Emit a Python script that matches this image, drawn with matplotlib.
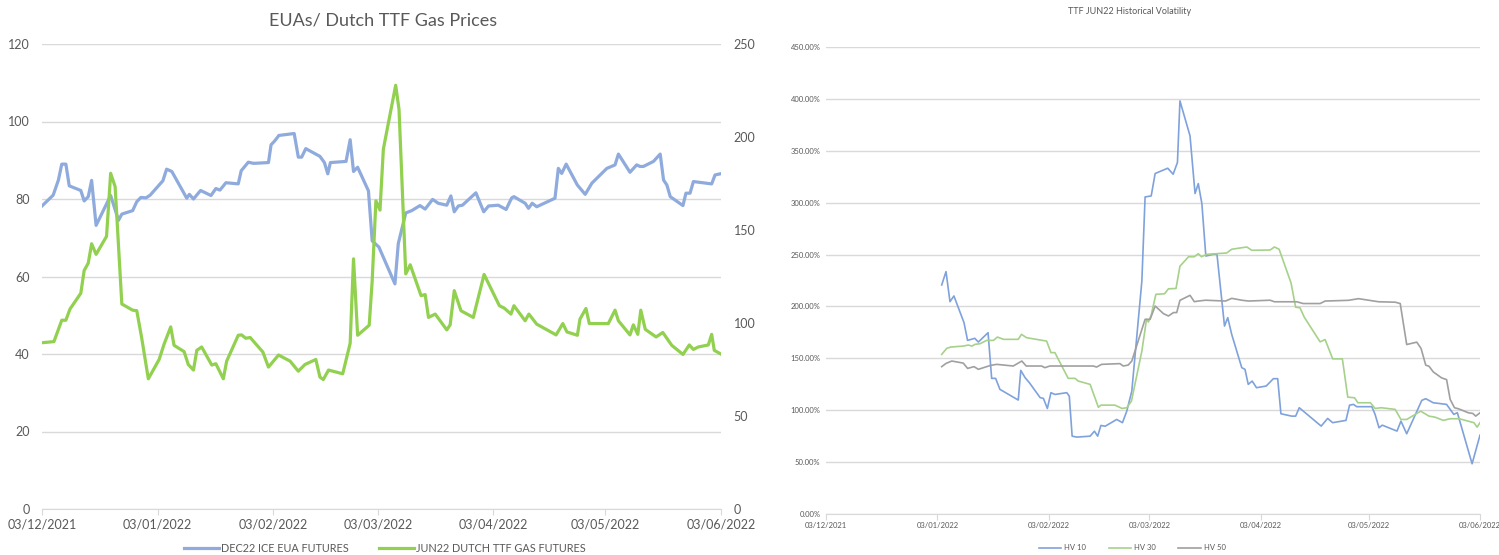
import matplotlib
matplotlib.use("Agg")
import matplotlib.pyplot as plt
import numpy as np
import pandas as pd
from matplotlib.lines import Line2D
from matplotlib.ticker import FuncFormatter, MultipleLocator

plt.rcParams["font.family"] = ["Lato", "DejaVu Sans"]

START = pd.Timestamp("2021-12-03")
MONTH_TICKS = pd.date_range("2021-12-03", "2022-06-03", freq=pd.DateOffset(months=1))

# --- left chart: EUA (left axis) vs TTF gas (right axis), x = days since 03/12/2021
eua_days = [0, 3.0, 4.4, 5.3, 6.4, 7.3, 10.4, 11.3, 12.4, 13.3, 14.5, 18.4, 20.5, 21.4, 24.3,
            25.4, 26.5, 27.9, 29.0, 31.2, 32.4, 33.4, 34.8, 38.8, 39.5, 40.6, 42.5, 45.3, 46.6,
            47.7, 49.3, 52.6, 53.4, 55.3, 56.7, 60.7, 61.4, 62.3, 63.5, 67.6, 68.7, 69.6, 70.7,
            74.5, 75.7, 76.6, 77.3, 81.5, 82.6, 83.5, 84.6, 87.5, 88.5, 90.3, 94.6, 95.5, 97.5,
            99.1, 101.3, 102.7, 104.7, 106.2, 108.5, 109.6, 110.5, 111.6, 112.7, 116.3, 118.4,
            119.7, 122.3, 124.4, 125.9, 126.5, 129.5, 130.4, 131.4, 132.6, 137.5, 138.4, 139.3,
            140.5, 143.5, 145.6, 147.4, 151.4, 153.6, 154.5, 157.6, 159.4, 160.3, 161.2, 163.9,
            165.7, 166.6, 167.5, 168.4, 171.8, 172.6, 173.7, 174.6, 179.5, 180.4, 181.8]
eua_vals = [78.2, 81.0, 84.9, 89.0, 89.0, 83.4, 82.2, 79.5, 80.6, 84.8, 73.2, 80.9, 74.5, 76.1, 77.0,
            79.3, 80.4, 80.3, 81.0, 83.4, 84.7, 87.7, 87.1, 80.2, 81.2, 80.0, 82.2, 80.9, 82.7,
            82.3, 84.2, 83.9, 87.3, 89.5, 89.2, 89.4, 94.0, 94.9, 96.4, 96.9, 90.8, 90.8, 93.0,
            91.0, 89.4, 86.5, 89.4, 89.7, 95.3, 87.1, 88.2, 82.1, 69.2, 67.6, 58.1, 68.5, 76.4,
            77.0, 78.3, 77.4, 79.9, 78.9, 78.4, 80.8, 76.7, 78.2, 78.4, 81.6, 76.7,
            78.2, 78.4, 77.3, 80.3, 80.6, 78.9, 77.6, 78.9, 78.0, 80.2, 87.9, 86.6,
            89.0, 83.6, 81.2, 84.1, 87.9, 88.8, 91.6, 86.9, 88.8, 88.4, 88.4, 89.7,
            91.6, 84.9, 83.6, 80.6, 78.3, 81.5, 81.5, 84.5, 83.9, 86.2, 86.5]

ttf_days = [0, 3.2, 5.3, 6.4, 7.5, 10.4, 11.3, 12.4, 13.3, 14.5, 17.3, 18.4, 19.6, 21.4, 24.3, 25.4,
            26.7, 28.5, 31.4, 32.7, 34.5, 35.4, 38.1, 39.2, 40.6, 41.5, 42.8, 45.5, 46.6, 48.6,
            49.5, 52.6, 53.5, 54.6, 55.8, 59.2, 60.7, 63.4, 66.5, 68.7, 70.5, 73.4, 74.5, 75.4,
            76.8, 80.6, 82.6, 83.5, 84.6, 87.7, 88.5, 89.5, 90.6, 91.5, 94.8, 95.7, 97.5, 98.7,
            101.6, 102.7, 103.6, 105.4, 108.5, 109.4, 110.5, 112.3, 115.6, 118.5, 122.6, 123.9,
            125.7, 126.5, 129.5, 130.5, 132.6, 137.8, 139.6, 140.7, 143.5, 144.2, 145.8, 146.7,
            151.8, 153.6, 154.5, 157.6, 158.5, 159.7, 160.5, 161.7, 164.6, 166.4, 168.8, 171.8,
            173.5, 174.6, 175.9, 178.6, 179.5, 180.2, 181.8]
ttf_vals = [89.4, 90.0, 101.5, 101.5, 107.5, 116.0, 128.2, 132.2, 142.6, 136.9, 146.6, 180.5, 173.3,
            110.2, 106.9, 106.6, 92.2, 70.0, 80.4, 88.5, 97.9, 88.0, 84.6, 77.7, 74.7, 85.3, 87.1,
            77.4, 78.1, 70.0, 79.5, 93.4, 93.6, 91.8, 92.2, 84.4, 76.3, 82.8, 79.5, 74.1, 77.7,
            80.4, 70.9, 69.6, 74.7, 72.7, 89.1, 134.5, 93.4, 98.8, 122.5, 165.7, 160.7, 193.5,
            227.8, 214.8, 126.4, 131.3, 114.7, 115.3, 103.0, 104.8, 96.3, 99.0, 117.4, 106.6,
            103.0, 126.1, 109.3, 108.0, 104.8, 109.3, 101.2, 104.8, 99.4, 93.6, 99.7, 95.2, 93.4,
            102.1, 107.8, 99.7, 99.7, 106.9, 101.2, 93.6, 99.0, 93.9, 106.9, 96.6, 92.5, 94.9,
            88.0, 83.1, 88.2, 85.8, 87.1, 88.2, 93.9, 85.3, 83.5]

# --- right chart: historical volatility (%), x = days since 03/12/2021
hv10_days = [32.2, 33.4, 34.5, 35.6, 38.4, 39.4, 41.4, 42.4, 45.1, 46.1, 47.2, 48.4, 53.5, 54.2,
             55.4, 56.6, 59.6, 60.5, 61.6, 62.6, 63.7, 67.0, 67.7, 68.5, 69.8, 73.5, 74.7, 75.6,
             76.5, 77.7, 80.9, 82.5, 83.7, 85.1, 87.9, 88.8, 90.5, 91.6, 95.1, 96.6, 97.8, 98.5,
             101.3, 102.7, 103.6, 104.6, 105.7, 107.8, 108.8, 110.9, 111.8, 112.9, 115.7, 116.6,
             117.5, 118.6, 119.8, 122.5, 124.5, 125.7, 126.6, 129.6, 130.7, 131.7, 137.8, 139.6,
             141.0, 144.7, 145.7, 146.8, 147.7, 151.9, 152.8, 153.9, 154.8, 158.9, 160.0, 161.6,
             165.8, 166.9, 169.0, 172.7, 174.7, 175.7, 179.8, 182.0]
hv10_vals = [220.7, 233.6, 204.6, 210.1, 184.4, 167.3, 169.3, 165.7, 174.7, 130.7, 130.7, 120.1,
             109.8, 138.4, 131.4, 126.5, 112.1, 111.4, 101.7, 116.9, 115.2, 116.9, 113.6, 75.0,
             74.1, 75.0, 79.8, 75.0, 85.3, 84.6, 91.1, 88.0, 99.1, 118.4, 224.5, 305.5, 306.5,
             328.1, 333.2, 327.4, 338.7, 398.1, 364.4, 308.8, 318.4, 299.1, 248.6, 250.3, 250.3,
             181.1, 189.2, 173.1, 141.0, 139.4, 124.9, 128.1, 121.7, 123.3, 130.4, 130.4, 96.6,
             94.3, 94.3, 102.4, 84.7, 92.1, 88.0, 90.2, 104.9, 105.6, 103.4, 103.4, 96.0, 83.1,
             85.6, 79.9, 89.5, 77.3, 109.5, 111.1, 107.2, 105.6, 96.0, 97.6, 48.4, 76.0]

hv30_days = [32.2, 33.6, 34.7, 38.2, 39.6, 40.6, 41.5, 42.9, 44.7, 46.6, 47.7, 49.4, 53.5, 54.4,
             55.8, 61.4, 62.6, 63.7, 67.4, 69.3, 70.2, 73.5, 75.8, 76.5, 80.4, 82.4, 83.7, 85.0,
             87.9, 89.2, 89.7, 90.5, 91.8, 94.2, 95.3, 97.4, 98.5, 100.9, 102.5, 103.6, 104.5,
             105.9, 111.5, 112.9, 117.1, 118.5, 123.6, 124.8, 126.1, 129.4, 130.7, 131.9, 133.1,
             137.5, 138.9, 141.0, 143.7, 145.2, 147.1, 148.0, 151.5, 152.8, 154.5, 158.4, 160.0,
             161.6, 165.5, 167.8, 169.5, 171.8, 173.7, 176.2, 180.3, 181.2, 182.0]
hv30_vals = [153.8, 159.6, 160.9, 161.8, 162.8, 161.8, 163.5, 164.1, 167.3, 167.3, 170.5, 168.3,
             168.3, 173.1, 169.9, 166.6, 155.5, 155.5, 130.7, 130.7, 128.1, 124.9, 102.8, 104.9,
             104.9, 101.7, 102.4, 108.8, 157.0, 187.6, 185.0, 191.7, 211.7, 212.2, 217.0, 217.3,
             238.8, 247.9, 247.9, 250.8, 247.9, 250.2, 251.5, 255.1, 257.3, 254.1, 254.4, 257.3,
             255.1, 222.8, 199.3, 198.7, 189.6, 165.9, 168.1, 149.5, 149.5, 112.6, 112.0, 107.2,
             107.2, 101.7, 102.4, 100.8, 91.1, 91.1, 99.1, 94.3, 93.3, 90.2, 91.8, 91.8, 88.0,
             83.7, 88.0]

hv50_days = [32.2, 33.4, 35.0, 38.2, 39.4, 41.2, 42.4, 45.8, 47.5, 52.1, 54.5, 55.7, 60.0, 60.9,
             62.3, 74.4, 75.3, 76.7, 81.8, 82.7, 84.1, 85.1, 88.8, 90.2, 91.6, 93.9, 95.3, 96.7,
             97.6, 98.5, 101.3, 102.5, 103.6, 105.6, 111.2, 112.9, 115.7, 117.6, 123.6, 124.8,
             131.0, 132.8, 137.5, 138.9, 145.4, 148.2, 153.8, 158.4, 159.8, 161.6, 164.4, 165.6,
             166.9, 167.8, 169.0, 171.3, 172.7, 173.7, 174.9, 176.0, 178.8, 180.0, 180.8, 182.0]
hv50_vals = [142.0, 145.1, 147.4, 145.4, 140.3, 142.0, 139.4, 143.2, 144.2, 142.6, 147.4, 142.6,
             142.6, 141.0, 142.6, 142.6, 141.6, 144.2, 144.9, 142.6, 143.5, 147.4, 187.6, 187.6,
             200.4, 193.1, 190.8, 194.1, 194.1, 205.9, 210.7, 204.6, 205.2, 206.0, 205.2, 207.8,
             206.0, 205.2, 206.0, 204.5, 204.5, 202.8, 202.8, 205.2, 205.9, 207.5, 204.5, 204.1,
             202.8, 163.3, 165.6, 159.5, 143.4, 142.4, 136.9, 131.2, 129.5, 110.4, 102.4, 101.4,
             97.5, 96.9, 94.3, 97.5]

TXT = "#595959"
GRID = "#D9D9D9"
W, H = 1499, 555


def to_dates(days):
    return START + pd.to_timedelta(np.asarray(days, dtype=float), unit="D")


def style_date_axis(ax, size, pad):
    ax.set_xlim(MONTH_TICKS[0], MONTH_TICKS[-1])
    ax.set_xticks(MONTH_TICKS)
    ax.set_xticklabels([d.strftime("%d/%m/%Y") for d in MONTH_TICKS])
    ax.tick_params(axis="x", colors=GRID, labelcolor=TXT, labelsize=size, length=4, pad=pad)
    for side in ("left", "right", "top"):
        ax.spines[side].set_visible(False)
    ax.spines["bottom"].set_color(GRID)
    ax.grid(axis="y", color=GRID, lw=1)
    ax.set_axisbelow(True)


fig = plt.figure(figsize=(W / 100, H / 100), dpi=100)

# left chart
ax1 = fig.add_axes([42 / W, 1 - 509 / H, (721 - 42) / W, (509 - 44) / H])
style_date_axis(ax1, 9, 3)
ax1.set_ylim(0, 120)
ax1.yaxis.set_major_locator(MultipleLocator(20))
ax1.tick_params(axis="y", length=0, labelsize=9, labelcolor=TXT, pad=9)
ax1.plot(to_dates(eua_days), eua_vals, color="#8FAADC", lw=2.3, solid_joinstyle="round")

ax1r = ax1.twinx()
ax1r.set_ylim(0, 250)
ax1r.yaxis.set_major_locator(MultipleLocator(50))
ax1r.tick_params(axis="y", length=0, labelsize=9, labelcolor=TXT, pad=9)
for s in ax1r.spines.values():
    s.set_visible(False)
ax1r.plot(to_dates(ttf_days), ttf_vals, color="#92D050", lw=2.3, solid_joinstyle="round")

fig.text(383 / W, 1 - 20 / H, "EUAs/ Dutch TTF Gas Prices", ha="center", va="center",
         fontsize=13, color=TXT)
fig.legend([Line2D([], [], color="#8FAADC", lw=2.3), Line2D([], [], color="#92D050", lw=2.3)],
           ["DEC22 ICE EUA FUTURES", "JUN22 DUTCH TTF GAS FUTURES"],
           loc="center", bbox_to_anchor=(385 / W, 1 - 548 / H), ncol=2, frameon=False,
           fontsize=7.8, labelcolor=TXT, handlelength=3.2, columnspacing=2.8, handletextpad=0.2)

# right chart
ax2 = fig.add_axes([826 / W, 1 - 514 / H, (1480 - 826) / W, (514 - 47) / H])
style_date_axis(ax2, 5.5, 2)
ax2.set_ylim(0, 450)
ax2.yaxis.set_major_locator(MultipleLocator(50))
ax2.yaxis.set_major_formatter(FuncFormatter(lambda v, _: f"{v:.2f}%"))
ax2.tick_params(axis="y", length=0, labelsize=5.5, labelcolor=TXT, pad=4)
ax2.plot(to_dates(hv10_days), hv10_vals, color="#7FA2DC", lw=1.2, label="HV 10")
ax2.plot(to_dates(hv30_days), hv30_vals, color="#A6D18A", lw=1.2, label="HV 30")
ax2.plot(to_dates(hv50_days), hv50_vals, color="#A0A0A0", lw=1.2, label="HV 50")

fig.text(1130 / W, 1 - 12 / H, "TTF JUN22 Historical Volatility", ha="center", va="center",
         fontsize=6.5, color=TXT)
fig.legend(*ax2.get_legend_handles_labels(), loc="center",
           bbox_to_anchor=(1132 / W, 1 - 548 / H), ncol=3, frameon=False, fontsize=5.5,
           labelcolor=TXT, handlelength=3, columnspacing=3, handletextpad=0.3)

fig.savefig("out.png", dpi=100)
